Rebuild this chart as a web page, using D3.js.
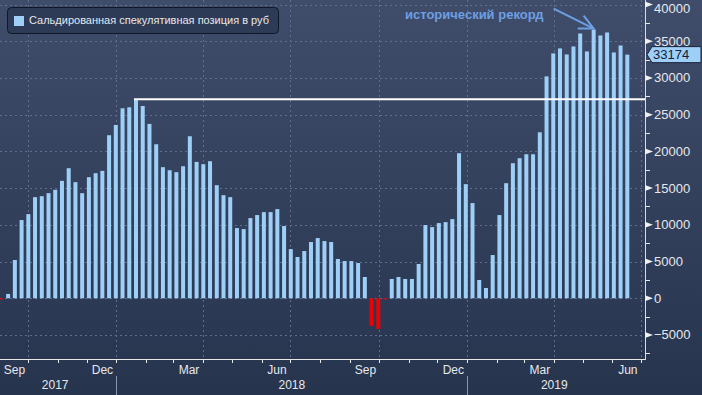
<!DOCTYPE html>
<html><head><meta charset="utf-8">
<script src="https://cdn.jsdelivr.net/npm/d3@7"></script>
<style>html,body{margin:0;padding:0;background:#2c3a55;overflow:hidden}</style>
</head><body><svg id="c" width="702" height="395"></svg>
<script>
// ---- data ----
const dates = [
 "2017-09-05","2017-09-12","2017-09-19","2017-09-26","2017-10-03","2017-10-10","2017-10-17","2017-10-24","2017-10-31",
 "2017-11-07","2017-11-14","2017-11-21","2017-11-28","2017-12-05","2017-12-12","2017-12-19","2017-12-26",
 "2018-01-02","2018-01-09","2018-01-16","2018-01-23","2018-01-30","2018-02-06","2018-02-13","2018-02-20","2018-02-27",
 "2018-03-06","2018-03-13","2018-03-20","2018-03-27","2018-04-03","2018-04-10","2018-04-17","2018-04-24",
 "2018-05-01","2018-05-08","2018-05-15","2018-05-22","2018-05-29","2018-06-05","2018-06-12","2018-06-19","2018-06-26",
 "2018-07-03","2018-07-10","2018-07-17","2018-07-24","2018-07-31","2018-08-07","2018-08-14","2018-08-21","2018-08-28",
 "2018-09-04","2018-09-11","2018-09-18","2018-09-25","2018-10-02","2018-10-09","2018-10-16","2018-10-23","2018-10-30",
 "2018-11-06","2018-11-13","2018-11-20","2018-11-27","2018-12-04","2018-12-11","2018-12-18","2018-12-25",
 "2019-01-01","2019-01-08","2019-01-15","2019-01-22","2019-01-29","2019-02-05","2019-02-12","2019-02-19","2019-02-26",
 "2019-03-05","2019-03-12","2019-03-19","2019-03-26","2019-04-02","2019-04-09","2019-04-16","2019-04-23","2019-04-30",
 "2019-05-07","2019-05-14","2019-05-21","2019-05-28","2019-06-04","2019-06-11","2019-06-18"
];
const values = [
 -100, 590, 5210, 10650, 11460, 13770, 13900, 14310, 14770,
 15990, 17710, 15810, 14310, 16490, 17030, 17350, 22200,
 23600, 25870, 26000, 27100, 26180, 23740, 20970, 17850, 17440,
 17170, 17980, 22060, 18570, 18260, 18660, 15400, 14040,
 13770, 9560, 9420, 10920, 11330, 11730, 11730, 12140, 9830,
 6700, 5620, 6430, 7660, 8200, 7790, 7660, 5350, 5070,
 5070, 4800, 2900, -3760, -4170, -100, 2630, 2900, 2630,
 2630, 4670, 9970, 9690, 10240, 10370, 10780, 19750,
 15540, 12960, 2490, 1400, 5890, 11330, 15670, 18390, 19070,
 19610, 19610, 22600, 30210, 33340, 34020, 33200, 34290, 36050,
 33610, 36590, 35780, 36190, 33470, 34420, 33174
];
const seriesName = "Сальдированная спекулятивная позиция в руб";
const record2018 = 27100;
const recordText = "исторический рекорд";
const lastValueLabel = "33174";
const yTickValues = [-5000, 0, 5000, 10000, 15000, 20000, 25000, 30000, 35000, 40000];
const yMinorTickValues = [-7500, -2500, 2500, 7500, 12500, 17500, 22500, 27500, 32500, 37500];
const monthLabelNames = ["Sep", "Dec", "Mar", "Jun", "Sep", "Dec", "Mar", "Jun"];
const monthLabelMonths = ["2017-09", "2017-12", "2018-03", "2018-06", "2018-09", "2018-12", "2019-03", "2019-06"];
const yearLabels = ["2017", "2018", "2019"];

// ---- layout ----
const W = 702, H = 395;
const plotRight = 645, plotBottom = 359;
const barColor = "#9ecff7", negColor = "#f00000", textColor = "#e6e8ec";
const font = "'Liberation Sans', Arial, sans-serif";
const parse = d3.utcParse("%Y-%m-%d");
const data = dates.map((d, i) => ({date: parse(d), value: values[i]}));

const x = d3.scaleUtc().domain([Date.UTC(2017, 9, 1), Date.UTC(2019, 6, 1)]).range([27.9, 641.3]);
const y = d3.scaleLinear().domain([-5000, 40000]).range([335, 4.5]);
const barShift = -1.5, barW = 4;

const svg = d3.select("#c");
const defs = svg.append("defs");
const g = defs.append("linearGradient").attr("id", "bg").attr("x1", 0).attr("y1", 0).attr("x2", 0).attr("y2", 1);
g.append("stop").attr("offset", "0%").attr("stop-color", "#3f4d6b");
g.append("stop").attr("offset", "100%").attr("stop-color", "#27344e");
defs.append("clipPath").attr("id", "clip").append("rect").attr("x", 0).attr("y", 0).attr("width", plotRight).attr("height", plotBottom);

svg.append("rect").attr("width", W).attr("height", H).attr("fill", "url(#bg)");

// grid
const grid = svg.append("g").attr("stroke", "#5d6f8c").attr("stroke-width", 1).attr("stroke-dasharray", "2,3");
grid.selectAll("line.h").data(yTickValues).join("line")
  .attr("x1", 0).attr("x2", plotRight).attr("y1", d => Math.round(y(d)) + 0.5).attr("y2", d => Math.round(y(d)) + 0.5);
const quarters = d3.utcMonth.every(3).range(Date.UTC(2017, 8, 1), Date.UTC(2019, 6, 2));
grid.selectAll("line.v").data(quarters).join("line")
  .attr("y1", 0).attr("y2", plotBottom).attr("x1", d => Math.round(x(d)) + 0.5).attr("x2", d => Math.round(x(d)) + 0.5);

// bars
svg.append("g").attr("clip-path", "url(#clip)").selectAll("rect").data(data).join("rect")
  .attr("x", d => x(d.date) + barShift - barW / 2)
  .attr("width", barW)
  .attr("y", d => y(Math.max(0, d.value)))
  .attr("height", d => Math.max(1, Math.abs(y(d.value) - y(0))))
  .attr("fill", d => d.value < 0 ? negColor : barColor);

// record line
const recIdx = values.indexOf(d3.max(values.slice(0, 40)));
svg.append("line").attr("x1", x(data[recIdx].date) + barShift - barW / 2).attr("x2", plotRight)
  .attr("y1", y(record2018)).attr("y2", y(record2018)).attr("stroke", "#ffffff").attr("stroke-width", 2);

// x axis
svg.append("line").attr("x1", 0).attr("x2", plotRight).attr("y1", plotBottom + 0.5).attr("y2", plotBottom + 0.5).attr("stroke", "#e8e8e8");
const months = d3.utcMonth.range(Date.UTC(2017, 9, 1), Date.UTC(2019, 6, 2));
svg.append("g").selectAll("line").data(months).join("line")
  .attr("x1", d => Math.round(x(d)) + 0.5).attr("x2", d => Math.round(x(d)) + 0.5)
  .attr("y1", plotBottom).attr("y2", plotBottom + 4).attr("stroke", "#e8e8e8");
const monthParse = d3.utcParse("%Y-%m");
svg.append("g").selectAll("text").data(monthLabelMonths).join("text")
  .attr("x", (d) => { const s = monthParse(d); const e = d3.utcMonth.offset(s, 1); return (x(s) + x(e)) / 2 + 1; })
  .attr("y", 374).attr("text-anchor", "middle").attr("fill", textColor)
  .style("font", `12px ${font}`).text((d, i) => monthLabelNames[i]);
// years
const yearBounds = [Date.UTC(2018, 0, 1), Date.UTC(2019, 0, 1)];
svg.append("g").selectAll("line").data(yearBounds).join("line")
  .attr("x1", d => Math.round(x(d)) + 0.5).attr("x2", d => Math.round(x(d)) + 0.5)
  .attr("y1", 376).attr("y2", H).attr("stroke", "#8c95a8");
const yearSpans = yearLabels.map((yl, i) => {
  const s = Math.max(0, x(Date.UTC(+yl, 0, 1)));
  const e = Math.min(x(Date.UTC(2019, 6, 1)), x(Date.UTC(+yl + 1, 0, 1)));
  return (s + e) / 2;
});
svg.append("g").selectAll("text").data(yearLabels).join("text")
  .attr("x", (d, i) => yearSpans[i] - (i === 0 ? 3 : 0)).attr("y", 389).attr("text-anchor", "middle")
  .attr("fill", textColor).style("font", `12px ${font}`).text(d => d);

// y axis (right)
svg.append("line").attr("x1", plotRight + 0.5).attr("x2", plotRight + 0.5).attr("y1", 0).attr("y2", plotBottom + 1).attr("stroke", "#d8dce4");
svg.append("g").selectAll("path").data(yTickValues).join("path")
  .attr("d", d => { const yy = y(d); return `M${plotRight},${yy - 3}L${plotRight + 8},${yy}L${plotRight},${yy + 3}Z`; })
  .attr("fill", "#f0f0f0");
svg.append("g").selectAll("line").data(yMinorTickValues).join("line")
  .attr("x1", plotRight).attr("x2", plotRight + 5).attr("y1", d => Math.round(y(d)) + 0.5).attr("y2", d => Math.round(y(d)) + 0.5)
  .attr("stroke", "#e8e8e8");
svg.append("g").selectAll("text").data(yTickValues).join("text")
  .attr("x", 654).attr("y", d => Math.max(10, y(d) + 1)).attr("dominant-baseline", "middle")
  .attr("fill", textColor).style("font", `13px ${font}`).text(d => d3.format("d")(d));

// last value tag
const ly = y(values[values.length - 1]);
svg.append("path").attr("d", `M647,${ly}L652,${ly - 8}L701,${ly - 8}L701,${ly + 8}L652,${ly + 8}Z`)
  .attr("fill", barColor).attr("stroke", "#1b2438").attr("stroke-width", 1);
svg.append("text").attr("x", 653).attr("y", ly + 1).attr("dominant-baseline", "middle")
  .attr("fill", "#14203a").style("font", `13px ${font}`).text(lastValueLabel);

// annotation
const maxIdx = values.indexOf(d3.max(values));
const tipX = x(data[maxIdx].date) + barShift, tipY = y(values[maxIdx]) - 1;
const annColor = "#6d9fe3";
svg.append("text").attr("x", 405).attr("y", 19).attr("fill", annColor)
  .style("font", `bold 13px ${font}`).text(recordText);
const tailX = tipX - 40, tailY = tipY - 20;
svg.append("line").attr("x1", tailX).attr("y1", tailY).attr("x2", tipX).attr("y2", tipY)
  .attr("stroke", annColor).attr("stroke-width", 2);
svg.append("path").attr("d", `M${tipX - 10},${tipY - 13}L${tipX},${tipY}L${tipX - 16},${tipY}`)
  .attr("fill", "none").attr("stroke", annColor).attr("stroke-width", 2);

// legend
svg.append("rect").attr("x", 7.5).attr("y", 7.5).attr("width", 271).attr("height", 26).attr("rx", 4)
  .attr("fill", "#2e3b56").attr("stroke", "#101827").attr("stroke-width", 1);
svg.append("rect").attr("x", 14).attr("y", 16).attr("width", 10).attr("height", 10).attr("fill", barColor);
svg.append("text").attr("x", 29).attr("y", 21.5).attr("dominant-baseline", "middle").attr("fill", textColor)
  .style("font", `11px ${font}`).text(seriesName);
</script></body></html>
